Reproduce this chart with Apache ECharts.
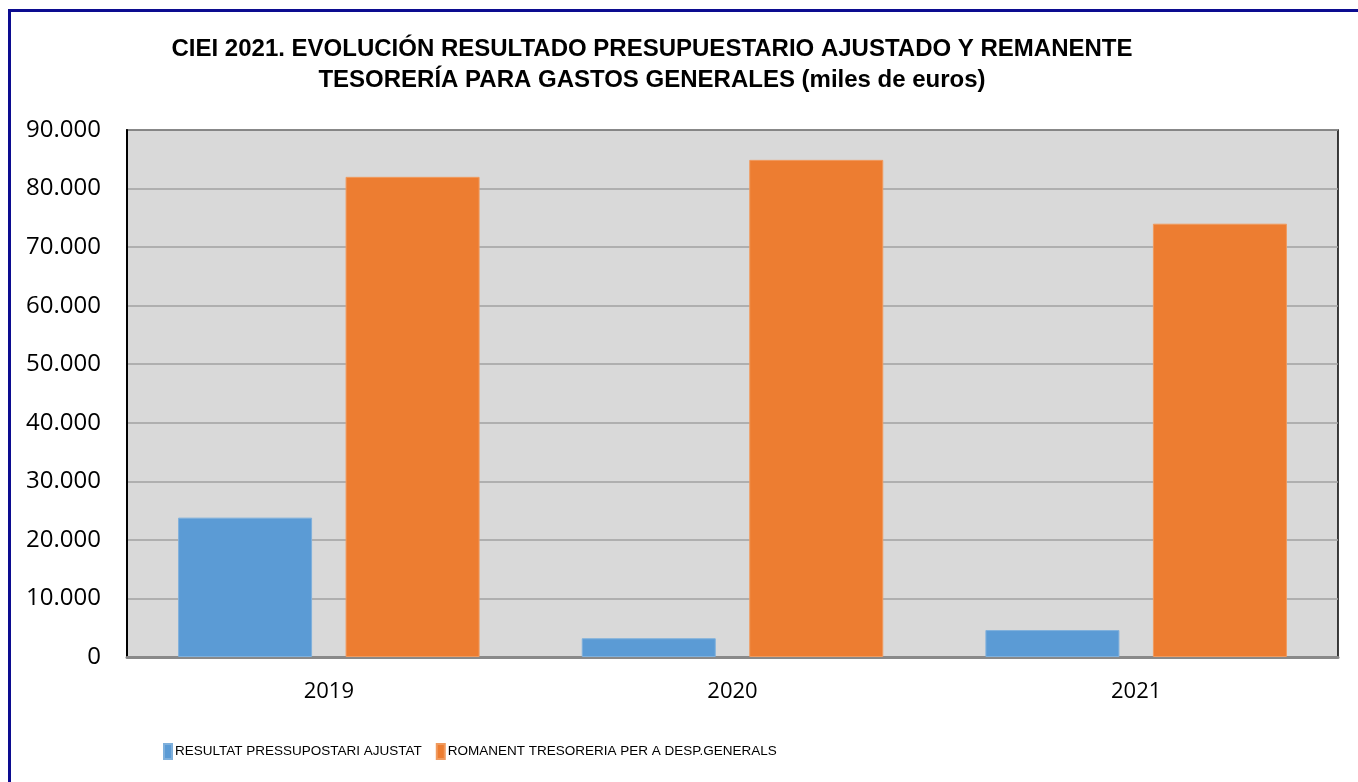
<!DOCTYPE html>
<html>
<head>
<meta charset="utf-8">
<script src="https://cdn.jsdelivr.net/npm/echarts@6/dist/echarts.min.js"></script>
<style>
  html, body { margin: 0; padding: 0; background: #fff; }
  #frame { position: absolute; left: 8px; top: 9px; width: 1400px; height: 800px;
           border-top: 3px solid #0c0c90; border-left: 3px solid #0c0c90; }
  #main { position: absolute; left: 0; top: 0; width: 1358px; height: 782px; }
</style>
</head>
<body>
<div id="frame"></div>
<div id="main"></div>
<script>
// categorias y valores (miles de euros)
const years = ['2019', '2020', '2021'];
const resultatAjustat = [23800, 3200, 4600];
const romanentTresoreria = [82000, 84900, 74000];
const seriesNames = ['RESULTAT PRESSUPOSTARI AJUSTAT', 'ROMANENT TRESORERIA PER A DESP.GENERALS'];
const yTicks = { min: 0, max: 90000, interval: 10000 };

const chart = echarts.init(document.getElementById('main'), null, { renderer: 'canvas' });

function fmtMiles(v) {
  return String(v).replace(/\B(?=(\d{3})+(?!\d))/g, '.');
}

const option = {
  animation: false,
  title: {
    text: 'CIEI 2021. EVOLUCIÓN RESULTADO PRESUPUESTARIO AJUSTADO Y REMANENTE\nTESORERÍA PARA GASTOS GENERALES (miles de euros)',
    left: 647,
    top: 29,
    textAlign: 'center',
    textStyle: {
      fontFamily: "'Liberation Sans', Arial, sans-serif",
      fontWeight: 'bold',
      fontSize: 24,
      lineHeight: 31,
      color: '#000'
    }
  },
  legend: {
    left: 158,
    top: 738,
    itemWidth: 8,
    itemHeight: 15,
    itemGap: 14,
    icon: 'rect',
    data: seriesNames,
    textStyle: {
      fontFamily: "'Liberation Sans', Arial, sans-serif",
      fontSize: 13.5,
      color: '#000',
      padding: [0, 0, 0, -2]
    }
  },
  grid: {
    left: 127,
    right: 20,
    top: 130,
    bottom: 125,
    show: true,
    backgroundColor: '#d9d9d9',
    borderColor: '#000',
    borderWidth: 1.5,
    containLabel: false
  },
  xAxis: {
    type: 'category',
    data: years,
    axisLine: { show: true, lineStyle: { color: '#898989', width: 3 } },
    axisTick: { show: false },
    axisLabel: {
      margin: 24,
      fontFamily: "'Open Sans', 'Noto Sans', sans-serif",
      fontSize: 22,
      color: '#000'
    }
  },
  yAxis: {
    type: 'value',
    min: yTicks.min,
    max: yTicks.max,
    interval: yTicks.interval,
    axisLine: { show: true, lineStyle: { color: '#000', width: 2 } },
    axisTick: { show: false },
    splitLine: { show: true, lineStyle: { color: '#a0a0a0', width: 1.5 } },
    axisLabel: {
      margin: 26,
      fontFamily: "'Open Sans', 'Noto Sans', sans-serif",
      fontSize: 24,
      color: '#000',
      formatter: fmtMiles
    }
  },
  series: [
    {
      name: seriesNames[0],
      type: 'bar',
      data: resultatAjustat,
      barWidth: 134,
      barGap: '25%',
      itemStyle: { color: '#5b9bd5', borderColor: '#7fb0dc', borderWidth: 1 }
    },
    {
      name: seriesNames[1],
      type: 'bar',
      data: romanentTresoreria,
      barWidth: 134,
      barGap: '25%',
      itemStyle: { color: '#ed7d31', borderColor: '#f09a5e', borderWidth: 1 }
    }
  ]
};

chart.setOption(option);
</script>
</body>
</html>
